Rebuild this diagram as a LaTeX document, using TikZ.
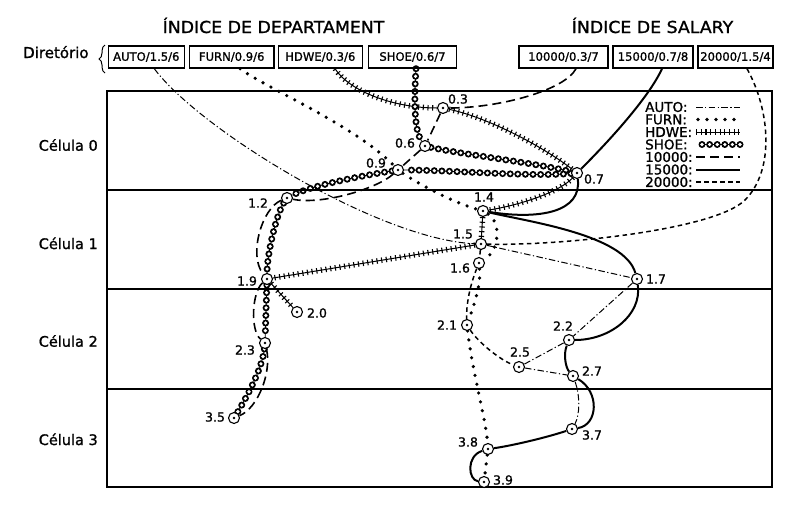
\documentclass[tikz,border=0pt]{standalone}
\usepackage{fontspec}
\usepackage{graphicx}
\setmainfont{DejaVu Sans}[FakeBold=1.2]
\usetikzlibrary{decorations.pathreplacing}
\pgfdeclarelayer{bg}
\pgfsetlayers{bg,main}
\begin{document}
\begin{tikzpicture}[x=1pt,y=-1pt,
  dirbox/.style={draw, line width=1.4pt, minimum height=22pt, minimum width=#1, inner sep=0pt, font=\fontsize{11.6}{13}\selectfont},
  mk/.style={circle, draw, fill=white, line width=1.1pt, minimum size=11pt, inner sep=0pt,
    path picture={\fill[black] (path picture bounding box.center) circle (1.4pt);}},
  lbl/.style={inner sep=0pt, font=\fontsize{12.5}{14}\selectfont},
  cell/.style={anchor=base east, inner sep=0pt, font=\fontsize{14.5}{17}\selectfont},
  hdr/.style={anchor=base, inner sep=0pt, font=\fontsize{16.5}{19}\selectfont},
  leg/.style={anchor=west, inner sep=0pt, font=\fontsize{13.5}{15}\selectfont},
  lauto/.style={line width=1pt, dash pattern=on 6.5pt off 2.5pt on 1.2pt off 2.5pt},
  lfurn/.style={line width=3.6pt, line cap=round, dash pattern=on 0pt off 9pt},
  lhdwe/.style={line width=1pt, postaction={draw, line width=5.5pt, dash pattern=on 1.1pt off 3.6pt}},
  lshoe/.style={line width=0.8pt,
    postaction={draw, line width=7pt, line cap=round, dash pattern=on 0pt off 7.6pt},
    postaction={draw, white, line width=3.6pt, line cap=round, dash pattern=on 0pt off 7.6pt}},
  lten/.style={line width=1.6pt, dash pattern=on 9pt off 5pt},
  lfif/.style={line width=2pt},
  ltwe/.style={line width=1.5pt, dash pattern=on 4.5pt off 3.5pt},
  frame/.style={line width=1.5pt}
]
\useasboundingbox (0,0) rectangle (797,509);

% frame and cells
\draw[frame] (107,91) rectangle (772,487);
\draw[frame] (107,190) -- (772,190);
\draw[frame] (107,289) -- (772,289);
\draw[frame] (107,389) -- (772,389);

% headers
\node[hdr] (hD) at (273.5,33) {\scalebox{1.05}[1]{ÍNDICE DE DEPARTAMENT}};
\node[hdr] (hS) at (652.5,33) {\scalebox{1.05}[1]{ÍNDICE DE SALARY}};
\node[anchor=base west, inner sep=0pt, font=\fontsize{15}{17}\selectfont] (dir) at (23,58) {Diretório};
\draw[decorate, decoration={brace, amplitude=6pt}, line width=1pt] (105,73) -- (105,45);

% directory boxes
\node[dirbox=76pt] (bA) at (146.3,57) {AUTO/1.5/6};
\node[dirbox=84.7pt] (bF) at (231.7,57) {FURN/0.9/6};
\node[dirbox=84pt] (bH) at (320.3,57) {HDWE/0.3/6};
\node[dirbox=88pt] (bS) at (412.5,57) {SHOE/0.6/7};
\node[dirbox=89pt] (b1) at (563.5,57) {10000/0.3/7};
\node[dirbox=80pt] (b2) at (653,57) {15000/0.7/8};
\node[dirbox=75pt] (b3) at (735.5,57) {20000/1.5/4};

\coordinate (sA) at ([xshift=8pt]bA.south);
\coordinate (sF) at ([xshift=8.3pt]bF.south);
\coordinate (sH) at ([xshift=14.7pt]bH.south);
\coordinate (sS) at ([xshift=3.5pt]bS.south);
\coordinate (s1) at ([xshift=12.5pt]b1.south);
\coordinate (s2) at ([xshift=9pt]b2.south);
\coordinate (s3) at ([xshift=11.5pt]b3.south);

% cell labels
\node[cell] (c0) at (98,150.7) {Célula 0};
\node[cell] (c1) at (98,249) {Célula 1};
\node[cell] (c2) at (98,346.7) {Célula 2};
\node[cell] (c3) at (98,445) {Célula 3};

% legend
\node[leg] (gA) at (645,107) {AUTO:};
\node[leg] (gF) at (645,119.5) {FURN:};
\node[leg] (gH) at (645,132) {HDWE:};
\node[leg] (gS) at (645,144.5) {SHOE:};
\node[leg] (g1) at (645,157) {10000:};
\node[leg] (g2) at (645,169.5) {15000:};
\node[leg] (g3) at (645,182) {20000:};
\draw[lauto] (696,107) -- (740,107);
\draw[lfurn] (698,119.5) -- (740,119.5);
\draw[lhdwe] (696,132) -- (740,132);
\draw[lshoe] (702,144.5) -- (740,144.5);
\draw[lten] (696,157) -- (740,157);
\draw[lfif] (696,169.5) -- (740,169.5);
\draw[ltwe] (696,182) -- (740,182);

% records
\node[mk] (n03) at (443,108) {};
\node[mk] (n06) at (425,146) {};
\node[mk] (n09) at (398,170) {};
\node[mk] (n07) at (577,173) {};
\node[mk] (n14) at (483,211) {};
\node[mk] (n12) at (287,198) {};
\node[mk] (n15) at (481,244) {};
\node[mk] (n16) at (479,263) {};
\node[mk] (n19) at (267,279) {};
\node[mk] (n17) at (637,279) {};
\node[mk] (n20) at (297,312) {};
\node[mk] (n23) at (265,343) {};
\node[mk] (n35) at (234,418) {};
\node[mk] (n21) at (467,325) {};
\node[mk] (n22) at (569,340) {};
\node[mk] (n25) at (519,367) {};
\node[mk] (n27) at (573,376) {};
\node[mk] (n37) at (572,429) {};
\node[mk] (n38) at (488,449) {};
\node[mk] (n39) at (484,482) {};

\node[lbl] (t03) at (458,99) {0.3};
\node[lbl] (t06) at (405,143) {0.6};
\node[lbl] (t09) at (376,163) {0.9};
\node[lbl] (t07) at (594,179) {0.7};
\node[lbl] (t14) at (484,197) {1.4};
\node[lbl] (t12) at (258,203) {1.2};
\node[lbl] (t15) at (463,234) {1.5};
\node[lbl] (t16) at (460,268) {1.6};
\node[lbl] (t19) at (247,281) {1.9};
\node[lbl] (t17) at (656,279) {1.7};
\node[lbl] (t20) at (317,313) {2.0};
\node[lbl] (t23) at (245,350) {2.3};
\node[lbl] (t35) at (215,417) {3.5};
\node[lbl] (t21) at (447,325) {2.1};
\node[lbl] (t22) at (563,326) {2.2};
\node[lbl] (t25) at (520,352) {2.5};
\node[lbl] (t27) at (592,371) {2.7};
\node[lbl] (t37) at (592,435) {3.7};
\node[lbl] (t38) at (468,442) {3.8};
\node[lbl] (t39) at (503,480) {3.9};

\begin{pgfonlayer}{bg}
% AUTO
\draw[lauto] (sA) .. controls (200,130) and (380,240) .. (n15);
\draw[lauto] (n15) -- (n17);
\draw[lauto] (n17) -- (n22);
\draw[lauto] (n22) -- (n25);
\draw[lauto] (n25) -- (n27);
\draw[lauto] (n27) .. controls (580,395) and (580,415) .. (n37);
% FURN
\draw[lfurn] (sF) .. controls (266,88) and (356,126) .. (n09);
\draw[lfurn] (n09) .. controls (420,185) and (455,203) .. (n14);
\draw[lfurn] (n14) .. controls (501,222) and (500,250) .. (n16);
\draw[lfurn] (n16) .. controls (481,285) and (474,305) .. (n21);
\draw[lfurn] (n21) .. controls (472,370) and (486,420) .. (n38);
\draw[lfurn] (n38) -- (n39);
% HDWE
\draw[lhdwe] (sH) .. controls (350,92) and (395,108) .. (n03);
\draw[lhdwe] (n03) .. controls (490,118) and (545,148) .. (n07);
\draw[lhdwe] (n07) .. controls (560,192) and (520,205) .. (n14);
\draw[lhdwe] (n14) -- (n15);
\draw[lhdwe] (n15) -- (n19);
\draw[lhdwe] (n19) -- (n20);
% SHOE
\draw[lshoe] (sS) .. controls (414,100) and (414,130) .. (n06);
\draw[lshoe] (n06) .. controls (460,154) and (535,163) .. (n07);
\draw[lshoe] (n07) .. controls (530,177) and (450,170) .. (n09);
\draw[lshoe] (n09) .. controls (360,176) and (310,186) .. (n12);
\draw[lshoe] (n12) .. controls (276,215) and (267,255) .. (n19);
\draw[lshoe] (n19) -- (n23);
\draw[lshoe] (n23) .. controls (262,370) and (245,400) .. (n35);
% 10000
\draw[lten] (s1) .. controls (565,90) and (500,108) .. (n03);
\draw[lten] (n03) -- (n06);
\draw[lten] (n06) -- (n09);
\draw[lten] (n09) .. controls (375,190) and (320,205) .. (n12);
\draw[lten] (n12) .. controls (262,208) and (248,255) .. (n19);
\draw[lten] (n19) .. controls (252,292) and (250,330) .. (n23);
\draw[lten] (n23) .. controls (272,372) and (258,408) .. (n35);
% 15000
\draw[lfif] (s2) .. controls (650,95) and (615,135) .. (n07);
\draw[lfif] (n07) .. controls (582,212) and (540,220) .. (n14);
\draw[lfif] (n14) .. controls (530,222) and (625,235) .. (n17);
\draw[lfif] (n17) .. controls (642,315) and (610,340) .. (n22);
\draw[lfif] (n22) .. controls (563,355) and (566,368) .. (n27);
\draw[lfif] (n27) .. controls (600,392) and (598,425) .. (n37);
\draw[lfif] (n37) .. controls (545,438) and (510,446) .. (n38);
\draw[lfif] (n38) .. controls (466,456) and (468,480) .. (n39);
% 20000
\draw[ltwe] (s3) .. controls (770,110) and (775,170) .. (745,200) .. controls (715,230) and (560,246) .. (n15);
\draw[ltwe] (n15) -- (n16);
\draw[ltwe] (n16) .. controls (470,285) and (466,305) .. (n21);
\draw[ltwe] (n21) .. controls (478,342) and (500,360) .. (n25);
\end{pgfonlayer}
\end{tikzpicture}
\end{document}
